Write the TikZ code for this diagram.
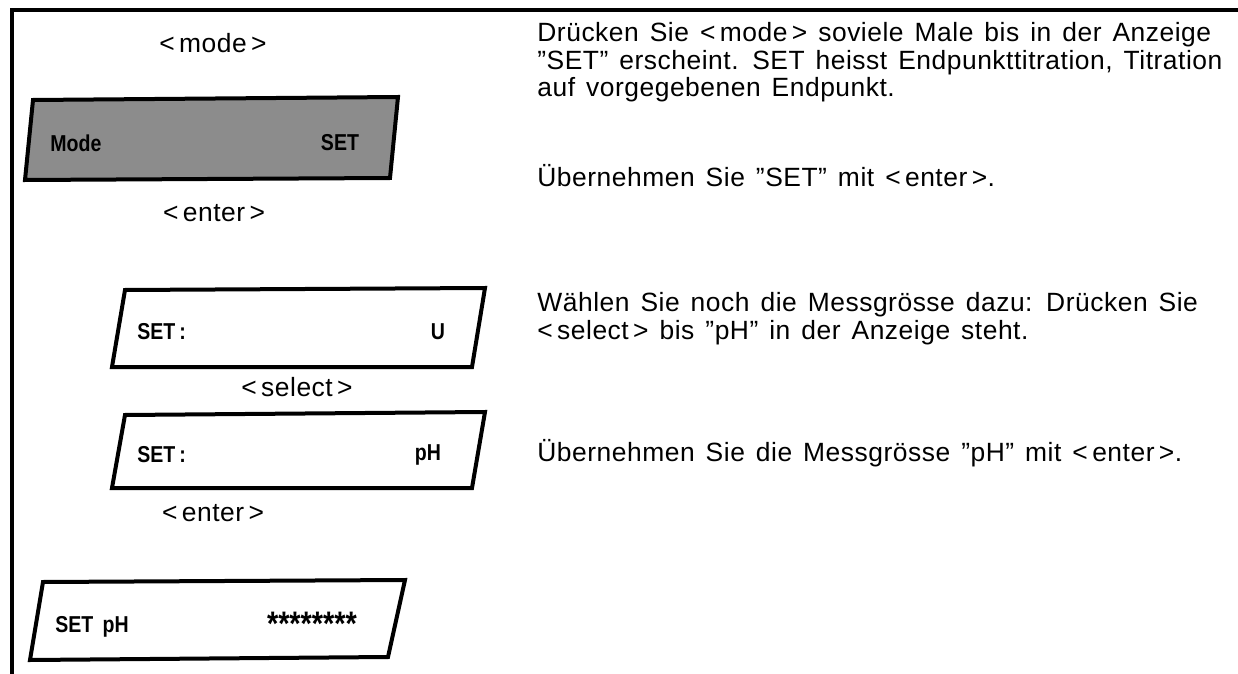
\documentclass[tikz,border=0pt]{standalone}
\usepackage{fontspec}
\setmainfont{Liberation Sans}[LetterSpace=2,WordSpace=1.4]
\newfontfamily\lcdfont{Liberation Sans}[FakeStretch=0.85]
\begin{document}
\begin{tikzpicture}[x=0.5pt,y=-0.5pt, font=\fontsize{13.2}{13.75}\selectfont]
\tikzset{
  disp/.style={line width=2pt, line join=miter},
  lcd/.style={font=\lcdfont\bfseries\fontsize{11.5}{12}\selectfont, inner sep=0pt},
  key/.style={inner sep=0pt},
  txt/.style={anchor=base west, inner sep=0pt, align=left}
}
\useasboundingbox (0,0) rectangle (1238,674);
\draw[line width=2.4pt] (12,674) -- (12,10) -- (1238,10);
% displays
\draw[disp, fill=black!45] (33,100) -- (398,97) -- (390,178) -- (25,180) -- cycle;
\draw[disp] (125,290) -- (485,288) -- (472,367) -- (112,367) -- cycle;
\draw[disp] (125,415) -- (485,412) -- (472,488) -- (112,488) -- cycle;
\draw[disp] (43,582) -- (405,580) -- (388,657) -- (30,660) -- cycle;
\node[lcd, anchor=west] (d1l) at (50,143) {Mode};
\node[lcd] (d1r) at (340,143) {SET};
\node[lcd, anchor=west] (d2l) at (137,332) {SET\,:};
\node[lcd] (d2r) at (438,332) {U};
\node[lcd, anchor=west] (d3l) at (137,455) {SET\,:};
\node[lcd] (d3r) at (428,455) {pH};
\node[lcd, anchor=west] (d4l) at (55,627) {SET\ \,pH};
\node[lcd, font=\lcdfont\bfseries\fontsize{17}{17}\selectfont] (d4r) at (312,624) {********};
% keys
\node[key] (kmode) at (213,43) {<\,mode\,>};
\node[key] (kenter) at (214,213) {<\,enter\,>};
\node[key] (ksel) at (297,387) {<\,select\,>};
\node[key] (kenter2) at (213,513) {<\,enter\,>};
% explanations
\node[txt] (t1) at (537,97) {Drücken Sie <\,mode\,> soviele Male bis in der Anzeige\\
  ”SET” erscheint. SET heisst Endpunkttitration, Titration\\
  auf vorgegebenen Endpunkt.};
\node[txt] (t2) at (537,187) {Übernehmen Sie ”SET” mit <\,enter\,>.};
\node[txt] (t3) at (537,339) {Wählen Sie noch die Messgrösse dazu: Drücken Sie\\
  <\,select\,> bis ”pH” in der Anzeige steht.};
\node[txt] (t4) at (537,461) {Übernehmen Sie die Messgrösse ”pH” mit <\,enter\,>.};
\end{tikzpicture}
\end{document}
